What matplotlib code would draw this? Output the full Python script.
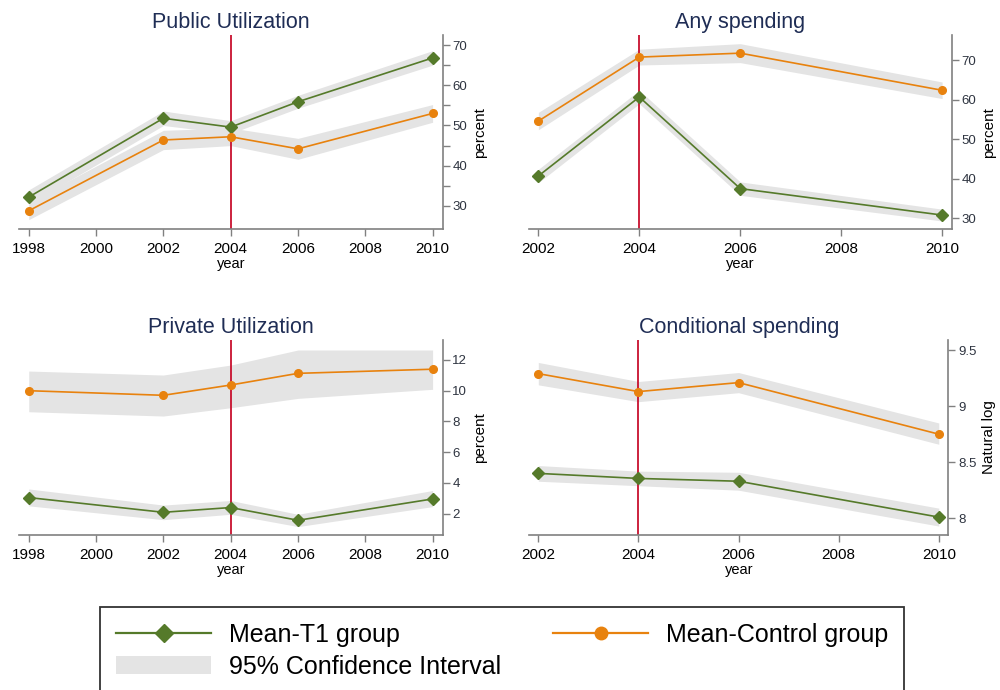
import matplotlib
matplotlib.use("Agg")
import matplotlib.pyplot as plt
from matplotlib.lines import Line2D
from matplotlib.patches import Patch

plt.rcParams['font.family'] = ['Liberation Sans', 'DejaVu Sans']

# data
years_long = [1998, 2002, 2004, 2006, 2010]
years_short = [2002, 2004, 2006, 2010]

# Public Utilization
pub_t1 = [32.2, 51.8, 49.6, 55.9, 66.8]
pub_t1_lo = [30.4, 50.0, 48.0, 54.3, 65.0]
pub_t1_hi = [34.0, 53.6, 51.2, 57.5, 68.6]
pub_ct = [28.8, 46.4, 47.2, 44.2, 53.0]
pub_ct_lo = [26.6, 44.0, 45.0, 41.6, 50.8]
pub_ct_hi = [31.0, 48.8, 49.4, 46.8, 55.2]

# Any spending
any_t1 = [40.7, 60.7, 37.5, 30.8]
any_t1_lo = [39.0, 59.0, 35.8, 29.3]
any_t1_hi = [42.4, 62.4, 39.2, 32.3]
any_ct = [54.6, 70.8, 71.8, 62.4]
any_ct_lo = [52.4, 68.8, 69.4, 60.3]
any_ct_hi = [56.8, 72.8, 74.2, 64.5]

# Private Utilization
priv_t1 = [3.04, 2.08, 2.39, 1.56, 2.95]
priv_t1_lo = [2.5, 1.6, 1.95, 1.15, 2.45]
priv_t1_hi = [3.6, 2.55, 2.85, 1.95, 3.5]
priv_ct = [10.0, 9.7, 10.37, 11.13, 11.4]
priv_ct_lo = [8.63, 8.35, 8.89, 9.5, 10.09]
priv_ct_hi = [11.28, 11.02, 11.67, 12.65, 12.65]

# Conditional spending
cond_t1 = [8.40, 8.355, 8.33, 8.01]
cond_t1_lo = [8.33, 8.29, 8.25, 7.93]
cond_t1_hi = [8.47, 8.42, 8.41, 8.09]
cond_ct = [9.29, 9.13, 9.21, 8.75]
cond_ct_lo = [9.19, 9.04, 9.12, 8.66]
cond_ct_hi = [9.39, 9.22, 9.30, 8.85]

green = '#557a2a'
orange = '#e8820e'
band = '#e4e4e4'
red = '#c8102e'
spine = '#808080'
title_col = '#1f2d55'


def panel(ax, title, x, t1, t1_lo, t1_hi, ct, ct_lo, ct_hi,
          xlim, ylim, xticks, yticks, ylabel, ylabels=None, minor=None):
    ax.fill_between(x, t1_lo, t1_hi, color=band, lw=0, zorder=1)
    ax.fill_between(x, ct_lo, ct_hi, color=band, lw=0, zorder=1)
    ax.axvline(2004, color=red, lw=1.3, zorder=2)
    ax.plot(x, t1, color=green, lw=1.2, marker='D', ms=6.5, zorder=3)
    ax.plot(x, ct, color=orange, lw=1.2, marker='o', ms=5.5, zorder=3)
    ax.set_xlim(*xlim)
    ax.set_ylim(*ylim)
    ax.set_xticks(xticks)
    ax.set_yticks(yticks)
    if ylabels is not None:
        ax.set_yticklabels(ylabels)
    if minor is not None:
        ax.set_yticks(minor, minor=True)
    ax.spines['left'].set_visible(False)
    ax.spines['top'].set_visible(False)
    for s in ('bottom', 'right'):
        ax.spines[s].set_color(spine)
        ax.spines[s].set_linewidth(1.2)
    ax.yaxis.tick_right()
    ax.yaxis.set_label_position('right')
    ax.tick_params(axis='x', which='both', direction='out', length=5,
                   width=1, color=spine, labelsize=11, pad=4)
    ax.tick_params(axis='y', which='both', direction='out', length=5,
                   width=1, color=spine, labelsize=9.5, labelcolor='#2e3440', pad=2)
    ax.set_xlabel('year', fontsize=10.5, labelpad=1)
    ax.set_ylabel(ylabel, fontsize=11, labelpad=4)
    ax.set_title(title, fontsize=15.5, color=title_col, pad=5)


fig = plt.figure(figsize=(10, 6.9), dpi=100)

ax1 = fig.add_axes([0.019, 0.6677, 0.4237, 0.2816])
panel(ax1, 'Public Utilization', years_long, pub_t1, pub_t1_lo, pub_t1_hi,
      pub_ct, pub_ct_lo, pub_ct_hi, (1997.71, 2010.3), (24.2, 72.5),
      range(1998, 2011, 2), [30, 40, 50, 60, 70], 'percent',
      minor=[35, 45, 55, 65])

ax2 = fig.add_axes([0.5293, 0.6677, 0.4224, 0.2816])
panel(ax2, 'Any spending', years_short, any_t1, any_t1_lo, any_t1_hi,
      any_ct, any_ct_lo, any_ct_hi, (2001.82, 2010.19), (27.2, 76.4),
      range(2002, 2011, 2), [30, 40, 50, 60, 70], 'percent')

ax3 = fig.add_axes([0.019, 0.2246, 0.4237, 0.2826])
panel(ax3, 'Private Utilization', years_long, priv_t1, priv_t1_lo, priv_t1_hi,
      priv_ct, priv_ct_lo, priv_ct_hi, (1997.71, 2010.3), (0.6, 13.3),
      range(1998, 2011, 2), [2, 4, 6, 8, 10, 12], 'percent')

ax4 = fig.add_axes([0.5293, 0.2246, 0.419, 0.2826])
panel(ax4, 'Conditional spending', years_short, cond_t1, cond_t1_lo, cond_t1_hi,
      cond_ct, cond_ct_lo, cond_ct_hi, (2001.82, 2010.19), (7.85, 9.59),
      range(2002, 2011, 2), [8, 8.5, 9, 9.5], 'Natural log',
      ylabels=['8', '8.5', '9', '9.5'])

handles = [
    Line2D([], [], color=green, lw=1.6, marker='D', ms=9.5),
    Patch(facecolor=band, edgecolor='none'),
    Line2D([], [], color=orange, lw=1.6, marker='o', ms=9),
]
labels = ['Mean-T1 group', '95% Confidence Interval', 'Mean-Control group']
leg = fig.legend(handles, labels, loc='upper left', ncol=2,
                 bbox_to_anchor=(0.100, 0.1203),
                 fontsize=18, frameon=True, fancybox=False, edgecolor='black',
                 handlelength=3.8, handletextpad=0.7, borderpad=0.65,
                 labelspacing=0.3, columnspacing=2.1, borderaxespad=0)
leg.get_frame().set_linewidth(1.3)

fig.savefig('out.png', dpi=100)
